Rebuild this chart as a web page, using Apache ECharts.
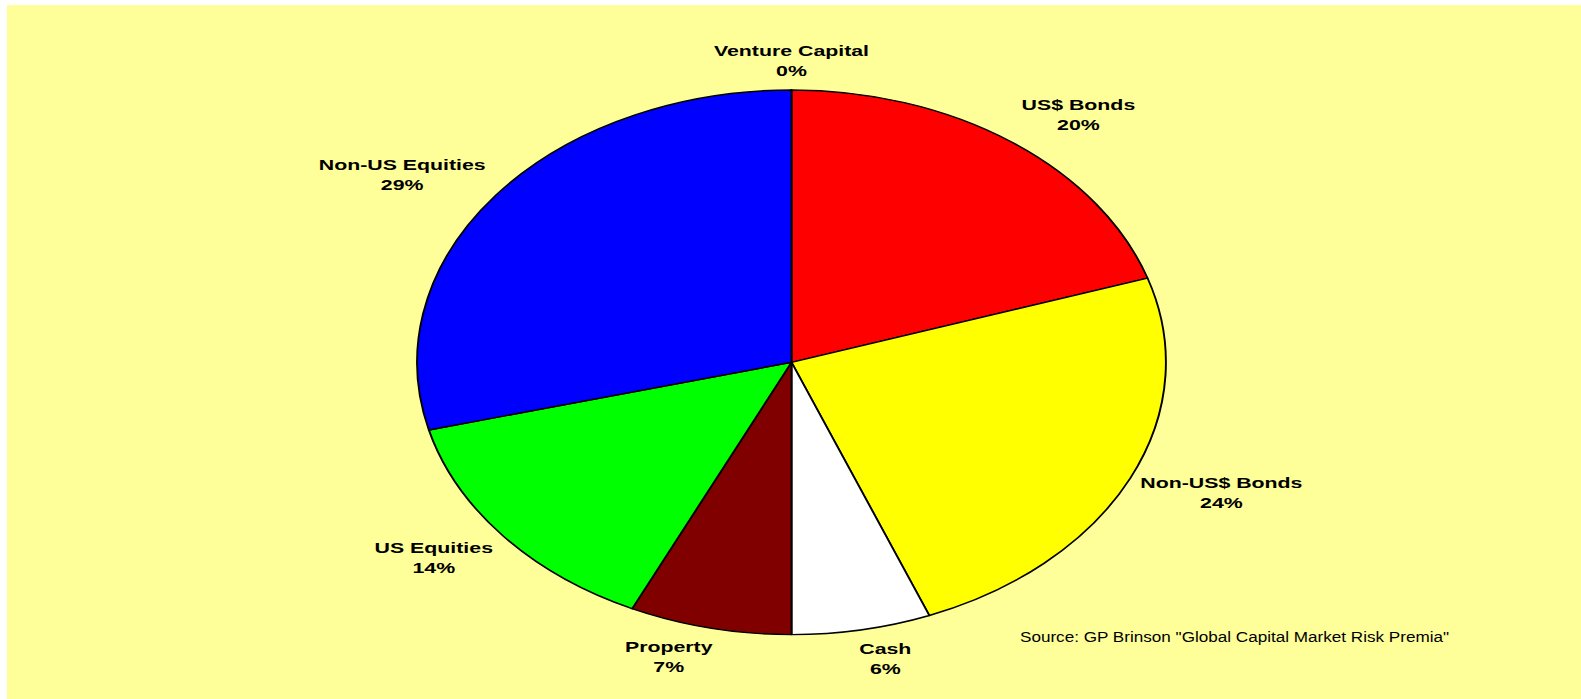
<!DOCTYPE html>
<html>
<head>
<meta charset="utf-8">
<title>Global Capital Market</title>
<script src="https://cdn.jsdelivr.net/npm/echarts@6/dist/echarts.min.js"></script>
<style>
  html, body { margin: 0; padding: 0; background: #ffffff; width: 1581px; height: 699px; overflow: hidden; }
  #panel { position: absolute; left: 7px; top: 5px; right: 0; bottom: 0; background: #ffff99; }
  /* the chart is laid out on a narrower canvas and widened horizontally */
  #chart { position: absolute; left: 0; top: 0; width: 1150px; height: 699px; transform: scaleX(1.375); transform-origin: 0 0; }
</style>
</head>
<body>
<div id="panel"></div>
<div id="chart"></div>
<script>
// Asset allocation of the global capital market (percent of total)
const categories = ['Venture Capital', 'US$ Bonds', 'Non-US$ Bonds', 'Cash', 'Property', 'US Equities', 'Non-US Equities'];
const shares = [0, 20, 24, 6, 7, 14, 29];
const sourceNote = 'Source: GP Brinson "Global Capital Market Risk Premia"';

const sliceColors = ['#800080', '#ff0000', '#ffff00', '#ffffff', '#800000', '#00ff00', '#0000ff'];

const STRETCH = 1.375;          // horizontal widening applied to the chart element
const CX = 791.5 / STRETCH;     // pie centre in chart pixels
const CY = 362.3;
const R = 272.3;

const total = shares.reduce((a, b) => a + b, 0);
const midAngles = [];
let acc = 0;
shares.forEach(v => {
  midAngles.push(2 * Math.PI * (acc + v / 2) / total);
  acc += v;
});

const clamp = v => Math.max(-1, Math.min(1, v));

// Place each label just outside the rim, centred on its slice's mid angle
function placeLabel(params) {
  const a = midAngles[params.dataIndex];
  const s = Math.sin(a), c = Math.cos(a);
  const px = CX + R * s, py = CY - R * c;
  const w = params.labelRect.width, h = params.labelRect.height;
  const gapX = 10 / STRETCH, gapY = 9;
  return {
    x: px + clamp(3.5 * s) * (w / 2 + gapX),
    y: py - clamp(1.15 * c) * (h / 2 + gapY),
    align: 'center',
    verticalAlign: 'middle'
  };
}

const chart = echarts.init(document.getElementById('chart'), null, { renderer: 'svg' });
chart.setOption({
  animation: false,
  backgroundColor: 'transparent',
  graphic: [{
    type: 'text',
    x: 1020 / STRETCH,
    y: 636,
    scaleX: 0.83,
    silent: true,
    style: {
      text: sourceNote,
      fill: '#000000',
      font: '15px "Liberation Sans", Arial, sans-serif',
      textAlign: 'left',
      textVerticalAlign: 'middle'
    }
  }],
  series: [{
    type: 'pie',
    silent: true,
    center: [CX, CY],
    radius: R,
    startAngle: 90,
    clockwise: true,
    avoidLabelOverlap: false,
    emphasis: { disabled: true },
    itemStyle: { borderColor: '#000000', borderWidth: 1.4 },
    label: {
      show: true,
      position: 'outside',
      color: '#000000',
      fontFamily: '"Liberation Sans", Arial, sans-serif',
      fontWeight: 'bold',
      fontSize: 15.5,
      lineHeight: 20,
      align: 'center',
      formatter: p => p.name + '\n' + p.value + '%'
    },
    labelLine: { show: false },
    labelLayout: placeLabel,
    data: categories.map((name, i) => ({
      name: name,
      value: shares[i],
      itemStyle: { color: sliceColors[i] }
    }))
  }]
});
</script>
</body>
</html>
